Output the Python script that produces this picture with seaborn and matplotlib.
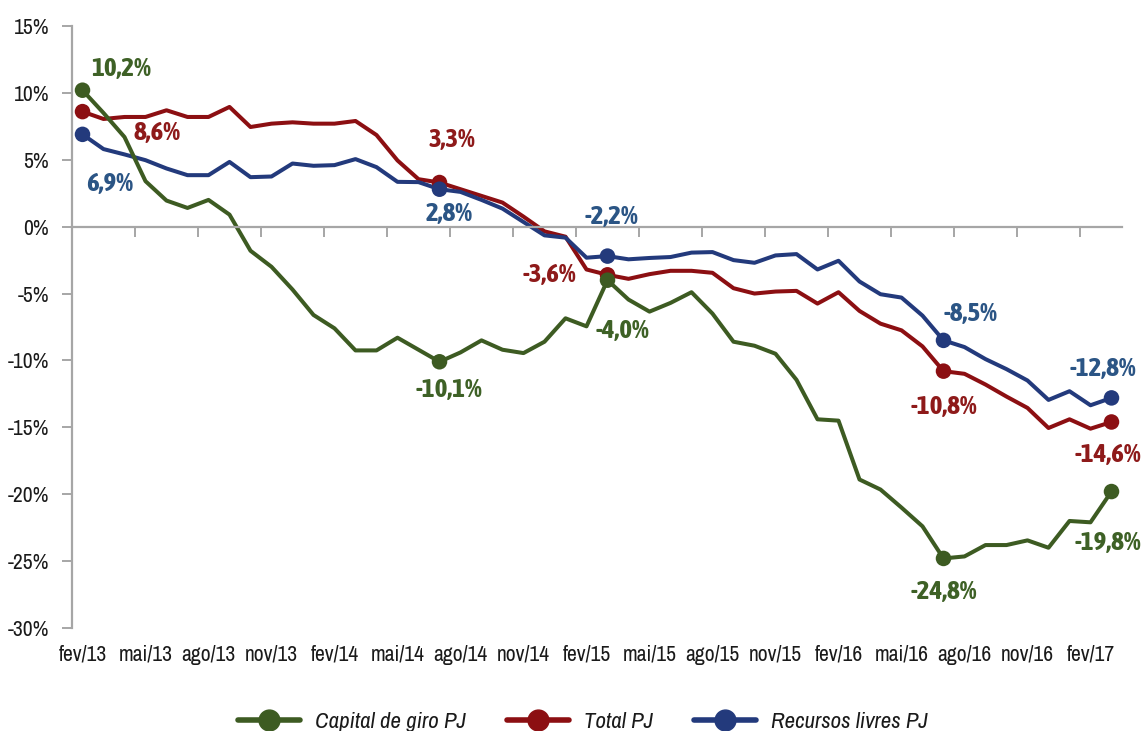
import numpy as np
import pandas as pd
import matplotlib
matplotlib.use("Agg")
import matplotlib.pyplot as plt
import seaborn as sns
from matplotlib.lines import Line2D

months = ["fev/13", "mar/13", "abr/13", "mai/13", "jun/13", "jul/13", "ago/13", "set/13", "out/13", "nov/13",
          "dez/13", "jan/14", "fev/14", "mar/14", "abr/14", "mai/14", "jun/14", "jul/14", "ago/14", "set/14",
          "out/14", "nov/14", "dez/14", "jan/15", "fev/15", "mar/15", "abr/15", "mai/15", "jun/15", "jul/15",
          "ago/15", "set/15", "out/15", "nov/15", "dez/15", "jan/16", "fev/16", "mar/16", "abr/16", "mai/16",
          "jun/16", "jul/16", "ago/16", "set/16", "out/16", "nov/16", "dez/16", "jan/17", "fev/17", "mar/17"]

tick_labels = ["fev/13", "mai/13", "ago/13", "nov/13", "fev/14", "mai/14", "ago/14", "nov/14", "fev/15",
               "mai/15", "ago/15", "nov/15", "fev/16", "mai/16", "ago/16", "nov/16", "fev/17"]

capital_giro = [10.2, 8.5, 6.7, 3.4, 1.95, 1.4, 2.0, 0.9, -1.8, -3.0,
                -4.7, -6.6, -7.6, -9.25, -9.25, -8.3, -9.2, -10.1, -9.4, -8.5,
                -9.2, -9.45, -8.6, -6.85, -7.45, -4.0, -5.45, -6.35, -5.7, -4.9,
                -6.5, -8.6, -8.9, -9.5, -11.45, -14.4, -14.5, -18.9, -19.65, -21.0,
                -22.4, -24.8, -24.65, -23.8, -23.8, -23.45, -24.0, -22.0, -22.1, -19.8]

total_pj = [8.6, 8.05, 8.2, 8.2, 8.7, 8.2, 8.2, 8.95, 7.45, 7.7,
            7.8, 7.7, 7.7, 7.9, 6.85, 4.95, 3.55, 3.3, 2.8, 2.3,
            1.8, 0.75, -0.35, -0.75, -3.2, -3.6, -3.9, -3.55, -3.3, -3.3,
            -3.45, -4.6, -5.0, -4.85, -4.8, -5.75, -4.9, -6.3, -7.25, -7.75,
            -8.95, -10.8, -11.0, -11.8, -12.7, -13.55, -15.05, -14.4, -15.1, -14.6]

recursos_livres = [6.9, 5.8, 5.4, 4.97, 4.35, 3.85, 3.85, 4.84, 3.7, 3.75,
                   4.72, 4.55, 4.6, 5.05, 4.45, 3.35, 3.33, 2.8, 2.6, 2.0,
                   1.35, 0.35, -0.65, -0.82, -2.32, -2.2, -2.44, -2.34, -2.27, -1.94,
                   -1.9, -2.5, -2.7, -2.15, -2.05, -3.2, -2.55, -4.1, -5.05, -5.3,
                   -6.65, -8.5, -9.0, -9.9, -10.65, -11.5, -12.95, -12.3, -13.35, -12.8]

series_names = ["Capital de giro PJ", "Total PJ", "Recursos livres PJ"]
highlight_idx = [0, 17, 25, 41, 49]

line_colors = {"Capital de giro PJ": "#3D5B22", "Total PJ": "#8C0F12", "Recursos livres PJ": "#233A7C"}
label_colors = {"Capital de giro PJ": "#3E6126", "Total PJ": "#8E1A1A", "Recursos livres PJ": "#2B5585"}

label_offsets = {
    "Capital de giro PJ": [(39, 22), (9, -28), (15, -50), (0, -33), (-4, -51)],
    "Total PJ": [(74, -21), (12, 43), (-58, 0), (0, -35), (-4, -33)],
    "Recursos livres PJ": [(27, -49), (10, -24), (4, 40), (27, 27), (-9, 29)],
}

sns.set_style("white")
plt.rcParams["font.family"] = ["Archivo Narrow", "DejaVu Sans"]
label_font = ["Asap Condensed", "DejaVu Sans"]

df = pd.DataFrame({
    "idx": np.tile(np.arange(len(months)), 3),
    "mes": months * 3,
    "serie": np.repeat(series_names, len(months)),
    "valor": capital_giro + total_pj + recursos_livres,
})

fig = plt.figure(figsize=(11.46, 7.31), dpi=100)
ax = fig.add_axes([72 / 1146, 103 / 731, 1050 / 1146, 602 / 731])

draw_order = ["Total PJ", "Recursos livres PJ", "Capital de giro PJ"]
for name in draw_order:
    sub = df[df["serie"] == name]
    sns.lineplot(data=sub, x="idx", y="valor", color=line_colors[name], linewidth=2.9,
                 ax=ax, legend=False, sort=False, zorder=2)

hl = df[df["idx"].isin(highlight_idx)]
for name in draw_order:
    sub = hl[hl["serie"] == name]
    sns.scatterplot(data=sub, x="idx", y="valor", color=line_colors[name], s=125,
                    edgecolor="none", ax=ax, legend=False, zorder=3)

for name in series_names:
    sub = hl[hl["serie"] == name].sort_values("idx")
    for (i, v), (dx, dy) in zip(zip(sub["idx"], sub["valor"]), label_offsets[name]):
        ax.annotate(f"{v:.1f}%".replace(".", ","), xy=(i, v), xytext=(dx, dy),
                    textcoords="offset pixels", ha="center", va="center",
                    fontsize=19.5, fontweight="bold", family=label_font, color=label_colors[name],
                    annotation_clip=False, zorder=4)

ax.set_xlim(-0.5, len(months) - 0.5)
ax.set_ylim(-30, 15)
ax.set_xlabel("")
ax.set_ylabel("")

axis_gray = "#A6A6A6"
for s in ["top", "right"]:
    ax.spines[s].set_visible(False)
ax.spines["left"].set_color(axis_gray)
ax.spines["left"].set_linewidth(1.6)
ax.spines["bottom"].set_position(("data", 0))
ax.spines["bottom"].set_color(axis_gray)
ax.spines["bottom"].set_linewidth(1.6)

ax.set_xticks(np.arange(-0.5, len(months) - 1, 3))
ax.set_xticklabels([])
ax.tick_params(axis="x", direction="out", length=7, width=1.4, color=axis_gray, bottom=True)

yt = np.arange(-30, 16, 5)
ax.set_yticks(yt)
ax.set_yticklabels([f"{v}%" for v in yt], fontsize=15.5, color="#1A1A1A")
ax.tick_params(axis="y", direction="out", length=7, width=1.4, color=axis_gray, left=True, pad=9.5)

secax = ax.secondary_xaxis("bottom")
secax.set_xticks(np.arange(0, len(months), 3))
secax.set_xticklabels(tick_labels, fontsize=15.5, color="#1A1A1A")
secax.tick_params(length=0, pad=12)
secax.spines["bottom"].set_visible(False)

handles = [Line2D([], [], color=line_colors[n], linewidth=4, marker="o", markersize=15) for n in series_names]
fig.legend(handles, series_names, loc="center", bbox_to_anchor=(583 / 1146, 9 / 731), ncol=3,
           frameon=False, prop={"style": "italic", "size": 16.5}, handlelength=2.7,
           handletextpad=0.65, columnspacing=1.8, labelcolor="#1A1A1A")

fig.savefig("out.png", dpi=100)
